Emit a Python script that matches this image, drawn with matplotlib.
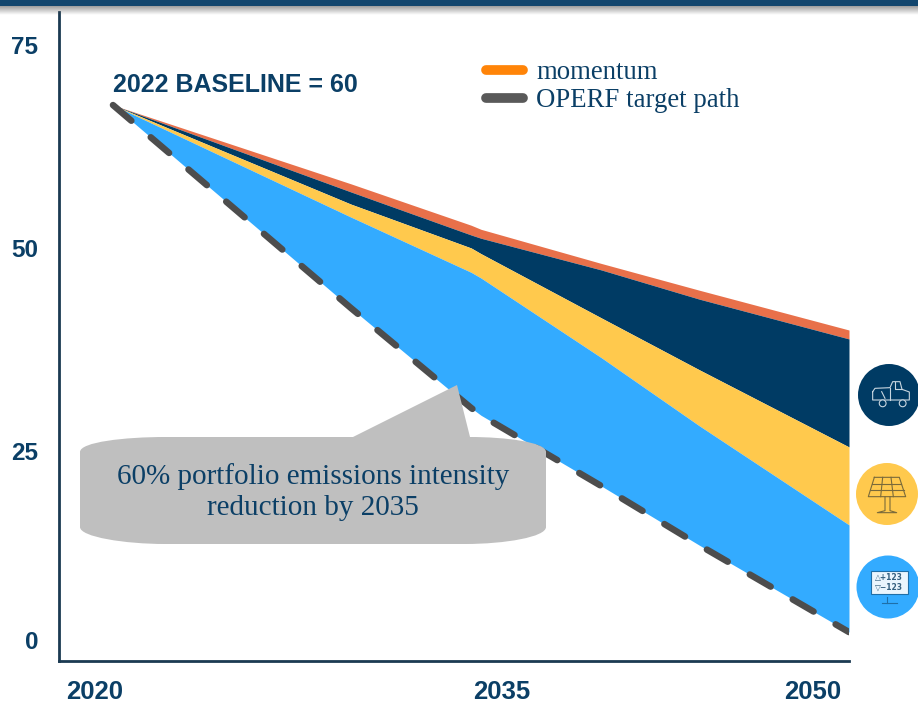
import numpy as np
import matplotlib
matplotlib.use('Agg')
import matplotlib.pyplot as plt
from matplotlib.lines import Line2D
from matplotlib.path import Path
from matplotlib.patches import PathPatch, Circle, Polygon, Rectangle

# values
years    = [2020, 2029.7, 2034.6, 2035, 2039.9, 2043.9, 2050]
momentum = [67.6, 57.9, 52.8, 52.3, 48.1, 44.8, 39.9]
vehicles = [67.6, 56.9, 51.6, 51.2, 47.3, 43.7, 38.8]
energy   = [67.6, 55.4, 50.0, 49.3, 41.4, 35.0, 25.5]
markets  = [67.6, 53.8, 47.0, 46.3, 36.5, 28.1, 15.9]
target   = [67.6, 42.6, 30.3, 29.4, 20.7, 13.4, 2.7]

ytick_pos = [1.7, 25, 50, 75]
ytick_labels = ['0', '25', '50', '75']
xtick_pos = [2019.27, 2035.86, 2048.5]
xtick_labels = ['2020', '2035', '2050']

NAVY = '#0B3F66'
SANS = 'Liberation Sans'
SERIF = 'Liberation Serif'

W, H = 918, 704
fig = plt.figure(figsize=(W/100, H/100), dpi=100, facecolor='white')
ax = fig.add_axes([59/W, 1-661/H, (849-59)/W, (661-12)/H])

#======================================
ax.fill_between(years, vehicles, momentum, color='#E8704A', lw=0)
ax.fill_between(years, energy, vehicles, color='#003B64', lw=0)
ax.fill_between(years, markets, energy, color='#FFC94D', lw=0)
ax.fill_between(years, target, markets, color='#33ABFF', lw=0)
ax.plot(years, target, color='#4D4D4D', lw=4.7, dash_capstyle='round',
        dashes=(3.7, 3.9), zorder=3)
#======================================

ax.set_xlim(2017.8, 2050)
ax.set_ylim(-0.86, 79.06)
ax.set_xticks(xtick_pos)
ax.set_xticklabels(xtick_labels, family=SANS, weight='bold', size=18.5, color=NAVY)
ax.set_yticks(ytick_pos)
ax.set_yticklabels(ytick_labels, family=SANS, weight='bold', size=17.5, color=NAVY)
ax.tick_params(length=0)
ax.tick_params(axis='x', pad=14)
ax.tick_params(axis='y', pad=15)
for s in ['top', 'right']:
    ax.spines[s].set_visible(False)
for s in ['left', 'bottom']:
    ax.spines[s].set_color('#1B3A52')
    ax.spines[s].set_linewidth(2.0)

handles = [Line2D([], [], color='#FF8408', lw=7, solid_capstyle='round'),
           Line2D([], [], color='#595959', lw=7, solid_capstyle='round')]
ax.legend(handles, ['momentum', 'OPERF target path'], loc='upper left',
          bbox_to_anchor=(481/W, 1-55/H), bbox_transform=fig.transFigure,
          frameon=False, handlelength=1.37, handletextpad=0.5, labelspacing=0.1,
          labelcolor=NAVY, borderpad=0.2, borderaxespad=0,
          prop={'family': SERIF, 'size': 19.3})

# overlay in pixel coordinates for header, callout and icons
ov = fig.add_axes([0, 0, 1, 1], facecolor='none')
ov.set_xlim(0, W)
ov.set_ylim(H, 0)
ov.axis('off')

ov.add_patch(Rectangle((0, 0), W, 6, color='#12466E', lw=0))
for i, a in enumerate(np.linspace(0.55, 0.02, 9)):
    ov.add_patch(Rectangle((0, 6+i), W, 1, color='#555555', alpha=a, lw=0))

ov.text(113, 85, '2022 BASELINE = 60', family=SANS, weight='bold', size=18,
        color=NAVY, va='center', ha='left')

# callout
verts = [(80, 452), (80, 442), (125, 437), (165, 437), (353, 437), (457, 385),
         (470, 437), (505, 437), (546, 442), (546, 452), (546, 527), (546, 537),
         (505, 544), (465, 544), (165, 544), (125, 544), (80, 537), (80, 527), (80, 452)]
codes = [Path.MOVETO, Path.CURVE4, Path.CURVE4, Path.CURVE4, Path.LINETO, Path.LINETO,
         Path.LINETO, Path.CURVE4, Path.CURVE4, Path.CURVE4, Path.LINETO, Path.CURVE4,
         Path.CURVE4, Path.CURVE4, Path.LINETO, Path.CURVE4, Path.CURVE4, Path.CURVE4,
         Path.LINETO]
ov.add_patch(PathPatch(Path(verts, codes), fc='#BFBFBF', ec='none', zorder=4))
ov.text(313, 492, '60% portfolio emissions intensity\nreduction by 2035', family=SERIF,
        size=21, color=NAVY, ha='center', va='center', linespacing=1.25, zorder=5)

# icons, points taken from a 3x crop at (780, 320)
def z(pts):
    return [(780+x/3, 320+y/3) for x, y in pts]

def stroke(pts, color, lw=0.8, closed=False):
    pts = z(pts)
    if closed:
        pts = pts + pts[:1]
    ov.plot(*zip(*pts), color=color, lw=lw, zorder=7)

ov.add_patch(Circle((889, 395), 31, fc='#003B64', ec='none', zorder=6))
ov.add_patch(Circle((887, 494), 31, fc='#FFC94D', ec='none', zorder=6))
ov.add_patch(Circle((888, 587), 31.5, fc='#33ABFF', ec='none', zorder=6))

c = '#C8D6E0'
stroke([(278, 215), (285, 205), (330, 203), (338, 185), (360, 185), (366, 208), (388, 216),
        (388, 240), (278, 240)], c, closed=True)
stroke([(345, 187), (345, 208), (366, 208)], c)
stroke([(330, 203), (330, 240)], c)
for cx in (308, 368):
    ov.add_patch(Circle((780+cx/3, 320+250/3), 3.4, fc='#003B64', ec=c, lw=0.8, zorder=7))
stroke([(305, 215), (315, 235)], c)

c = '#7A6A3A'
stroke([(283, 472), (358, 472), (377, 530), (265, 530)], c, closed=True)
stroke([(277, 491), (364, 491)], c)
stroke([(271, 510), (371, 510)], c)
stroke([(308, 472), (302, 530)], c)
stroke([(333, 472), (340, 530)], c)
stroke([(315, 530), (315, 572), (292, 578), (350, 578), (330, 572), (330, 530)], c)

c = '#1F6FA8'
ov.add_patch(Rectangle((780+272/3, 320+752/3), 111/3, 71/3, fc='#EAF5FD', ec=c, lw=0.8, zorder=7))
ov.text(888.5, 320+772/3, '\u25b3+123', family='DejaVu Sans', size=5.5, weight='bold',
        color='#35607F', ha='center', va='center', zorder=8)
ov.text(888.5, 320+803/3, '\u25bd\u2212123', family='DejaVu Sans', size=5.5, weight='bold',
        color='#35607F', ha='center', va='center', zorder=8)
stroke([(322, 830), (322, 848)], c)
stroke([(305, 848), (350, 848)], c)

plt.savefig('out.png', dpi=100)
